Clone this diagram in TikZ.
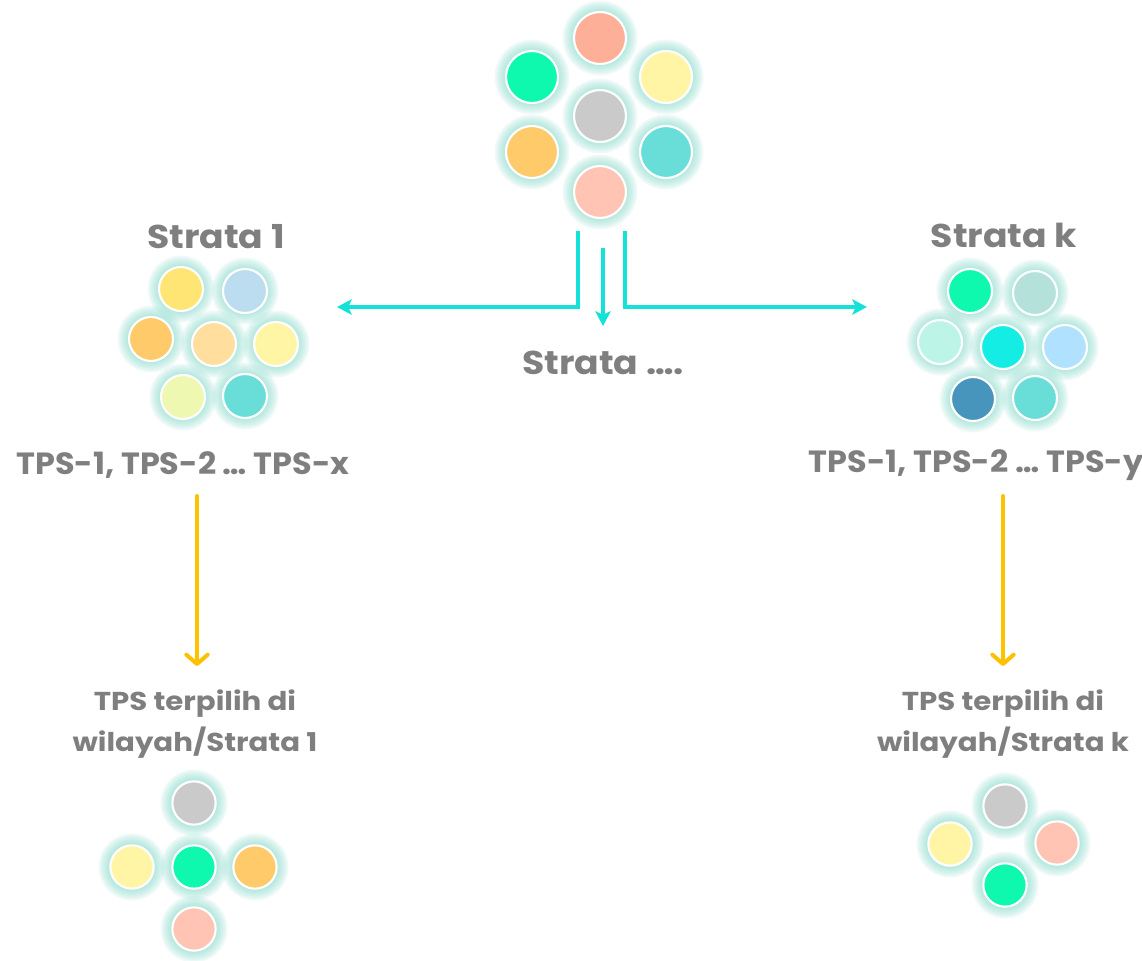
\documentclass[tikz,border=0pt]{standalone}
\usepackage{fontspec}
\setmainfont{Poppins}
\newfontfamily\fA{Poppins}[FakeStretch=1.1]
\newfontfamily\fB{Poppins}[FakeStretch=1.04]
\newfontfamily\fC{Poppins}[FakeStretch=1.13]
\usetikzlibrary{arrows.meta}
\definecolor{glowc}{RGB}{120,212,196}
\definecolor{txtg}{RGB}{127,127,127}
\definecolor{cyn}{RGB}{20,226,216}
\definecolor{orn}{RGB}{255,192,0}
\definecolor{cSalmon}{RGB}{253,175,151}
\definecolor{cGreen}{RGB}{14,248,174}
\definecolor{cYel}{RGB}{255,245,165}
\definecolor{cGray}{RGB}{202,202,202}
\definecolor{cOrange}{RGB}{255,202,106}
\definecolor{cTeal}{RGB}{105,222,217}
\definecolor{cPink}{RGB}{255,196,180}
\definecolor{cGold}{RGB}{255,229,116}
\definecolor{cLBlue}{RGB}{188,221,239}
\definecolor{cPeach}{RGB}{255,222,158}
\definecolor{cLime}{RGB}{239,248,176}
\definecolor{cGTeal}{RGB}{180,226,218}
\definecolor{cMint}{RGB}{188,245,232}
\definecolor{cCyan}{RGB}{20,237,228}
\definecolor{cSky}{RGB}{176,226,255}
\definecolor{cSteel}{RGB}{71,148,189}
\newcommand\glowat[3]{\foreach \k in {1,...,6}{\fill[glowc,opacity=0.12] (#1,#2) circle[radius={#3+1.9*\k}];}}
\tikzset{
  bub/.style={circle, draw=white, line width=1.6pt, inner sep=0pt},
  bubL/.style={bub, minimum size=39pt},
  bubM/.style={bub, minimum size=33pt},
  bubS/.style={bub, minimum size=32.5pt},
  lab/.style={text=txtg, inner sep=0pt},
  big/.style={lab, font=\fA\bfseries\fontsize{24.7}{28}\selectfont},
  mid/.style={lab, font=\fB\bfseries\fontsize{23}{26}\selectfont},
  sml/.style={lab, align=center, font=\fC\bfseries\fontsize{19.4}{30.75}\selectfont},
  cyanarrow/.style={draw=cyn, line width=2.8pt, -{Stealth[length=11pt,width=11.5pt,inset=2.5pt]}},
  orarrow/.style={draw=orn, line width=3pt, line cap=round, -{Straight Barb[length=7pt,width=16pt,line cap=round,line join=round]}}
}
\begin{document}
\begin{tikzpicture}[x=0.75pt,y=-0.75pt]
\useasboundingbox (0,0) rectangle (1142,960);
% glows
\foreach \x/\y in {600/38,532/77,666/77,600/116,532/152,666/152,600/192}{\glowat{\x}{\y}{26}}
\foreach \x/\y in {181/289,245/291,151/339,214/344,276/344,183/397,245/396,
                   970/291,1035/293,940/342,1003/347,1065/347,973/399,1035/398}{\glowat{\x}{\y}{22}}
\foreach \x/\y in {194/803,132/867,194/867,255/867,194/929,
                   1005/806,950/844,1057/843,1005/885}{\glowat{\x}{\y}{22}}
% top cluster
\node[bubL, fill=cSalmon] (t1) at (600,38) {};
\node[bubL, fill=cGreen] (t2) at (532,77) {};
\node[bubL, fill=cYel] (t3) at (666,77) {};
\node[bubL, fill=cGray] (t4) at (600,116) {};
\node[bubL, fill=cOrange] (t5) at (532,152) {};
\node[bubL, fill=cTeal] (t6) at (666,152) {};
\node[bubL, fill=cPink] (t7) at (600,192) {};
% strata 1 cluster
\node[bubM, fill=cGold] (a1) at (181,289) {};
\node[bubM, fill=cLBlue] (a2) at (245,291) {};
\node[bubM, fill=cOrange] (a3) at (151,339) {};
\node[bubM, fill=cPeach] (a4) at (214,344) {};
\node[bubM, fill=cYel] (a5) at (276,344) {};
\node[bubM, fill=cLime] (a6) at (183,397) {};
\node[bubM, fill=cTeal] (a7) at (245,396) {};
% strata k cluster
\node[bubM, fill=cGreen] (b1) at (970,291) {};
\node[bubM, fill=cGTeal] (b2) at (1035,293) {};
\node[bubM, fill=cMint] (b3) at (940,342) {};
\node[bubM, fill=cCyan] (b4) at (1003,347) {};
\node[bubM, fill=cSky] (b5) at (1065,347) {};
\node[bubM, fill=cSteel] (b6) at (973,399) {};
\node[bubM, fill=cTeal] (b7) at (1035,398) {};
% bottom left
\node[bubS, fill=cGray] (c1) at (194,803) {};
\node[bubS, fill=cYel] (c2) at (132,867) {};
\node[bubS, fill=cGreen] (c3) at (194,867) {};
\node[bubS, fill=cOrange] (c4) at (255,867) {};
\node[bubS, fill=cPink] (c5) at (194,929) {};
% bottom right
\node[bubS, fill=cGray] (d1) at (1005,806) {};
\node[bubS, fill=cYel] (d2) at (950,844) {};
\node[bubS, fill=cPink] (d3) at (1057,843) {};
\node[bubS, fill=cGreen] (d4) at (1005,885) {};
% labels
\node[big] (s1) at (216,237) {Strata 1};
\node[big] (sk) at (1004,235) {Strata k};
\node[big] (sm) at (603,363) {Strata ….};
\node[mid] (tx) at (183,465) {TPS-1, TPS-2 … TPS-x};
\node[mid] (ty) at (976,465) {TPS-1, TPS-2 … TPS-y};
\node[sml] (r1) at (195,724) {TPS terpilih di\\wilayah/Strata 1};
\node[sml] (rk) at (1003,724) {TPS terpilih di\\wilayah/Strata k};
% cyan connectors
\coordinate (tl) at (578,231);
\coordinate (tr) at (625,231);
\coordinate (tm) at (603,248);
\coordinate (el) at (337,307);
\coordinate (er) at (867,307);
\coordinate (em) at (603,326);
\draw[cyanarrow] (tl) |- (el);
\draw[cyanarrow] (tr) |- (er);
\draw[cyanarrow] (tm) -- (em);
% orange connectors
\coordinate (o1s) at (197,496);
\coordinate (o1e) at (197,666);
\coordinate (oks) at (1003,496);
\coordinate (oke) at (1003,666);
\draw[orarrow] (o1s) -- (o1e);
\draw[orarrow] (oks) -- (oke);
\end{tikzpicture}
\end{document}
